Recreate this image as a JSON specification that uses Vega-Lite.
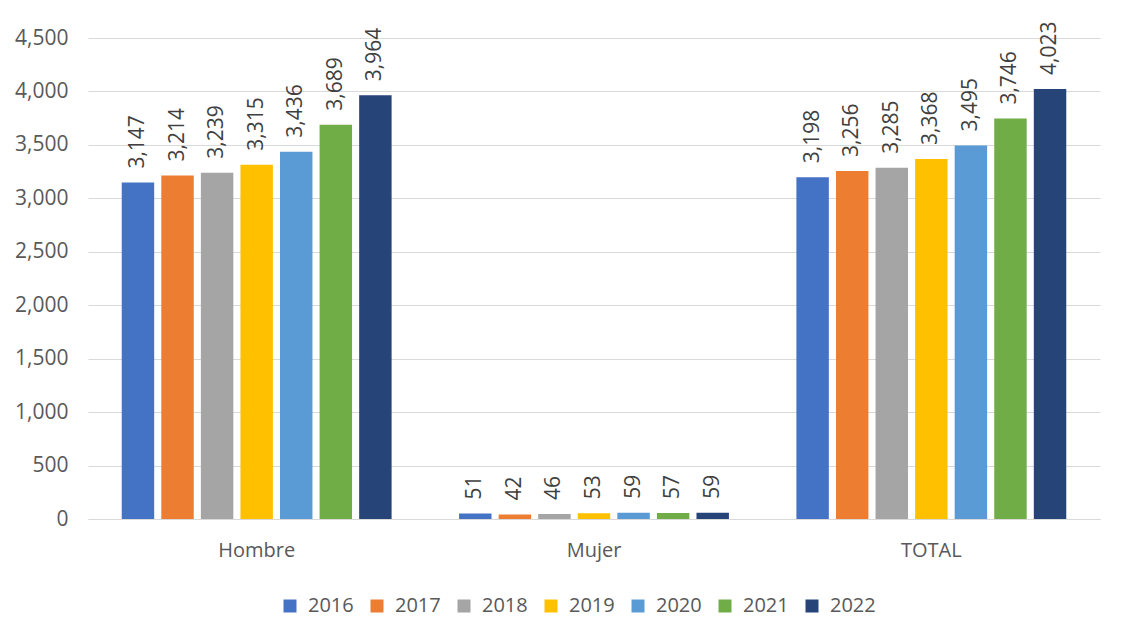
{
  "$schema": "https://vega.github.io/schema/vega-lite/v6.json",
  "autosize": {"type": "none"},
  "width": 1012,
  "height": 481,
  "padding": {"left": 88, "top": 38, "right": 34, "bottom": 120},
  "background": "white",
  "config": {
    "font": "Open Sans",
    "view": {"stroke": null}
  },
  "data": {
    "values": [
      {"grupo": "Hombre", "año": "2016", "valor": 3147},
      {"grupo": "Hombre", "año": "2017", "valor": 3214},
      {"grupo": "Hombre", "año": "2018", "valor": 3239},
      {"grupo": "Hombre", "año": "2019", "valor": 3315},
      {"grupo": "Hombre", "año": "2020", "valor": 3436},
      {"grupo": "Hombre", "año": "2021", "valor": 3689},
      {"grupo": "Hombre", "año": "2022", "valor": 3964},
      {"grupo": "Mujer", "año": "2016", "valor": 51},
      {"grupo": "Mujer", "año": "2017", "valor": 42},
      {"grupo": "Mujer", "año": "2018", "valor": 46},
      {"grupo": "Mujer", "año": "2019", "valor": 53},
      {"grupo": "Mujer", "año": "2020", "valor": 59},
      {"grupo": "Mujer", "año": "2021", "valor": 57},
      {"grupo": "Mujer", "año": "2022", "valor": 59},
      {"grupo": "TOTAL", "año": "2016", "valor": 3198},
      {"grupo": "TOTAL", "año": "2017", "valor": 3256},
      {"grupo": "TOTAL", "año": "2018", "valor": 3285},
      {"grupo": "TOTAL", "año": "2019", "valor": 3368},
      {"grupo": "TOTAL", "año": "2020", "valor": 3495},
      {"grupo": "TOTAL", "año": "2021", "valor": 3746},
      {"grupo": "TOTAL", "año": "2022", "valor": 4023}
    ]
  },
  "encoding": {
    "x": {
      "field": "grupo", "type": "nominal", "sort": null,
      "scale": {"paddingInner": 0.2, "paddingOuter": 0.1},
      "axis": {
        "title": null, "labelAngle": 0, "ticks": false,
        "domainColor": "#d9d9d9", "domainWidth": 1,
        "labelFontSize": 20, "labelColor": "#595959", "labelPadding": 21
      }
    },
    "xOffset": {
      "field": "año", "type": "nominal", "sort": null,
      "scale": {"paddingInner": 0.18, "paddingOuter": 0}
    },
    "y": {
      "field": "valor", "type": "quantitative",
      "scale": {"domain": [0, 4500], "nice": false},
      "axis": {
        "title": null, "values": [0, 500, 1000, 1500, 2000, 2500, 3000, 3500, 4000, 4500],
        "format": ",.0f", "domain": false, "ticks": false,
        "gridColor": "#d9d9d9", "gridWidth": 1,
        "labelFontSize": 21, "labelColor": "#595959", "labelPadding": 20
      }
    }
  },
  "layer": [
    {
      "mark": {"type": "bar"},
      "encoding": {
        "color": {
          "field": "año", "type": "nominal",
          "scale": {
            "domain": ["2016", "2017", "2018", "2019", "2020", "2021", "2022"],
            "range": ["#4472C4", "#ED7D31", "#A5A5A5", "#FFC000", "#5B9BD5", "#70AD47", "#264478"]
          },
          "legend": {
            "title": null, "orient": "none", "direction": "horizontal",
            "legendX": 192, "legendY": 558,
            "symbolType": "square", "symbolSize": 169, "symbolStrokeWidth": 0,
            "labelFontSize": 20, "labelColor": "#595959", "labelOffset": 8,
            "columnPadding": 13
          }
        }
      }
    },
    {
      "mark": {"type": "text", "angle": 270, "align": "left", "baseline": "middle", "dx": 14, "fontSize": 21, "color": "#404040"},
      "encoding": {
        "text": {"field": "valor", "type": "quantitative", "format": ",.0f"}
      }
    }
  ]
}
